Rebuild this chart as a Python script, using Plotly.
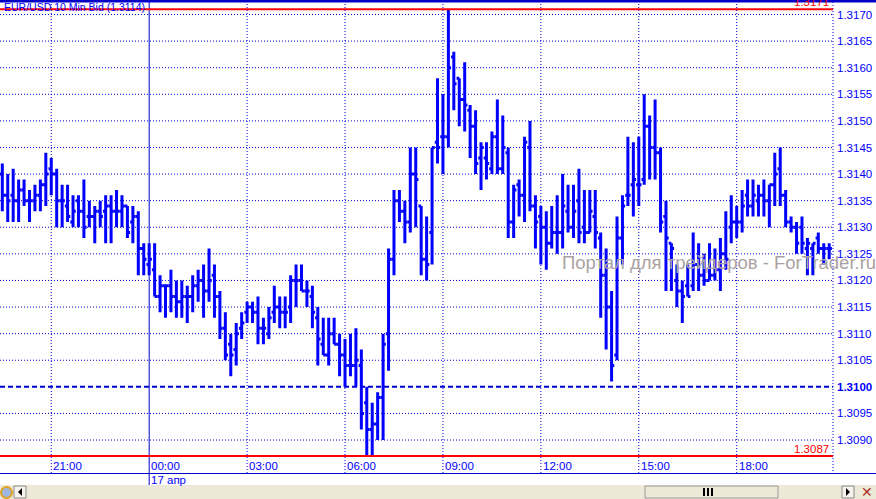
import pandas as pd
import plotly.graph_objects as go

# ---------------- data (EUR/USD, 10-minute bars, bid) ----------------
start_time = "2012-04-16 19:30"
n_bars = 153
times = pd.date_range(start_time, periods=n_bars, freq="10min")

high = [1.3142,1.3140,1.3141,1.3139,1.3139,1.3137,1.3138,1.3139,1.3144,1.3143,
        1.3141,1.3138,1.3138,1.3136,1.3136,1.3139,1.3135,1.3134,1.3135,1.3136,
        1.3136,1.3137,1.3136,1.3134,1.3134,1.3133,1.3127,1.3127,1.3127,1.3121,
        1.3119,1.3122,1.3120,1.3120,1.3119,1.3121,1.3122,1.3123,1.3126,1.3123,
        1.3118,1.3114,1.3110,1.3112,1.3114,1.3116,1.3116,1.3117,1.3113,1.3115,
        1.3119,1.3117,1.3117,1.3121,1.3123,1.3123,1.3120,1.3119,1.3115,1.3113,
        1.3113,1.3113,1.3110,1.3109,1.3110,1.3111,1.3107,1.3100,1.3097,1.3099,
        1.3110,1.3126,1.3137,1.3137,1.3135,1.3145,1.3145,1.3134,1.3132,1.3145,
        1.3158,1.3155,1.3171,1.3163,1.3158,1.3161,1.3153,1.3152,1.3146,1.3146,
        1.3148,1.3154,1.3151,1.3145,1.3138,1.3139,1.3147,1.3150,1.3136,1.3134,
        1.3133,1.3134,1.3136,1.3140,1.3138,1.3138,1.3141,1.3137,1.3137,1.3137,
        1.3129,1.3126,1.3118,1.3132,1.3136,1.3147,1.3146,1.3147,1.3155,1.3151,
        1.3154,1.3145,1.3135,1.3127,1.3123,1.3120,1.3123,1.3129,1.3127,1.3125,
        1.3127,1.3126,1.3128,1.3133,1.3136,1.3134,1.3137,1.3139,1.3139,1.3138,
        1.3139,1.3138,1.3144,1.3145,1.3137,1.3132,1.3131,1.3132,1.3128,1.3127,
        1.3129,1.3127,1.3127]

low = [1.3133,1.3131,1.3131,1.3131,1.3134,1.3131,1.3133,1.3133,1.3134,1.3136,
       1.3130,1.3130,1.3131,1.3130,1.3130,1.3128,1.3130,1.3127,1.3130,1.3127,
       1.3127,1.3130,1.3130,1.3128,1.3127,1.3121,1.3121,1.3121,1.3117,1.3114,
       1.3113,1.3114,1.3113,1.3113,1.3112,1.3114,1.3116,1.3113,1.3116,1.3113,
       1.3109,1.3105,1.3102,1.3104,1.3109,1.3112,1.3112,1.3108,1.3108,1.3109,
       1.3112,1.3111,1.3111,1.3112,1.3115,1.3118,1.3115,1.3111,1.3104,1.3106,
       1.3104,1.3108,1.3102,1.3100,1.3102,1.3100,1.3092,1.3087,1.3087,1.3090,
       1.3090,1.3103,1.3121,1.3131,1.3127,1.3129,1.3130,1.3121,1.3120,1.3123,
       1.3142,1.3140,1.3145,1.3152,1.3149,1.3148,1.3143,1.3140,1.3137,1.3139,
       1.3140,1.3140,1.3140,1.3128,1.3128,1.3132,1.3131,1.3133,1.3126,1.3123,
       1.3122,1.3126,1.3125,1.3126,1.3129,1.3128,1.3127,1.3127,1.3129,1.3126,
       1.3113,1.3107,1.3101,1.3105,1.3123,1.3134,1.3132,1.3134,1.3138,1.3139,
       1.3139,1.3129,1.3118,1.3118,1.3115,1.3112,1.3117,1.3118,1.3118,1.3119,
       1.3120,1.3120,1.3118,1.3122,1.3127,1.3128,1.3129,1.3132,1.3132,1.3132,
       1.3132,1.3130,1.3134,1.3134,1.3130,1.3129,1.3125,1.3125,1.3121,1.3121,
       1.3125,1.3123,1.3124]

open_ = [1.3140,1.3136,1.3136,1.3135,1.3137,1.3135,1.3135,1.3136,1.3138,1.3141,
         1.3140,1.3135,1.3134,1.3131,1.3135,1.3133,1.3132,1.3132,1.3133,1.3133,
         1.3134,1.3133,1.3133,1.3134,1.3131,1.3132,1.3126,1.3123,1.3122,1.3117,
         1.3119,1.3119,1.3117,1.3116,1.3117,1.3117,1.3119,1.3120,1.3118,1.3121,
         1.3117,1.3111,1.3108,1.3107,1.3111,1.3114,1.3115,1.3114,1.3111,1.3110,
         1.3114,1.3115,1.3114,1.3115,1.3120,1.3120,1.3118,1.3117,1.3113,1.3108,
         1.3106,1.3110,1.3108,1.3106,1.3104,1.3104,1.3104,1.3097,1.3092,1.3093,
         1.3098,1.3110,1.3124,1.3135,1.3133,1.3131,1.3140,1.3134,1.3124,1.3129,
         1.3146,1.3147,1.3147,1.3162,1.3158,1.3154,1.3152,1.3149,1.3143,1.3143,
         1.3141,1.3147,1.3141,1.3144,1.3131,1.3138,1.3136,1.3145,1.3134,1.3132,
         1.3130,1.3127,1.3129,1.3129,1.3133,1.3130,1.3135,1.3130,1.3129,1.3132,
         1.3128,1.3121,1.3115,1.3106,1.3128,1.3136,1.3138,1.3138,1.3139,1.3149,
         1.3145,1.3144,1.3132,1.3127,1.3120,1.3118,1.3119,1.3119,1.3123,1.3121,
         1.3120,1.3121,1.3122,1.3125,1.3130,1.3131,1.3131,1.3136,1.3134,1.3135,
         1.3136,1.3135,1.3138,1.3141,1.3136,1.3131,1.3130,1.3130,1.3126,1.3126,
         1.3128,1.3126,1.3126]

close = [1.3136,1.3135,1.3135,1.3137,1.3135,1.3135,1.3136,1.3138,1.3140,1.3140,
         1.3135,1.3135,1.3132,1.3133,1.3133,1.3130,1.3132,1.3133,1.3132,1.3134,
         1.3133,1.3133,1.3134,1.3129,1.3132,1.3126,1.3124,1.3124,1.3117,1.3119,
         1.3119,1.3117,1.3116,1.3117,1.3117,1.3119,1.3120,1.3118,1.3120,1.3117,
         1.3111,1.3106,1.3106,1.3110,1.3112,1.3115,1.3114,1.3111,1.3111,1.3113,
         1.3115,1.3114,1.3114,1.3120,1.3120,1.3118,1.3118,1.3114,1.3109,1.3106,
         1.3110,1.3108,1.3106,1.3104,1.3104,1.3105,1.3095,1.3092,1.3093,1.3098,
         1.3108,1.3124,1.3135,1.3133,1.3131,1.3140,1.3139,1.3124,1.3123,1.3145,
         1.3145,1.3147,1.3160,1.3157,1.3154,1.3153,1.3149,1.3142,1.3145,1.3142,
         1.3147,1.3141,1.3145,1.3131,1.3137,1.3136,1.3146,1.3134,1.3131,1.3130,
         1.3127,1.3129,1.3129,1.3134,1.3130,1.3133,1.3129,1.3129,1.3133,1.3129,
         1.3121,1.3115,1.3104,1.3128,1.3134,1.3136,1.3139,1.3138,1.3149,1.3145,
         1.3144,1.3131,1.3128,1.3126,1.3118,1.3117,1.3117,1.3123,1.3121,1.3120,
         1.3121,1.3122,1.3125,1.3124,1.3131,1.3131,1.3134,1.3134,1.3136,1.3136,
         1.3135,1.3138,1.3140,1.3136,1.3131,1.3130,1.3127,1.3127,1.3127,1.3127,
         1.3126,1.3126,1.3126]

price_ticks = [1.3090, 1.3095, 1.3100, 1.3105, 1.3110, 1.3115, 1.3120, 1.3125,
               1.3130, 1.3135, 1.3140, 1.3145, 1.3150, 1.3155, 1.3160, 1.3165, 1.3170]
round_level = 1.3100
time_ticks = ["2012-04-16 21:00", "2012-04-17 00:00", "2012-04-17 03:00",
              "2012-04-17 06:00", "2012-04-17 09:00", "2012-04-17 12:00",
              "2012-04-17 15:00", "2012-04-17 18:00"]
time_labels = ["21:00", "00:00", "03:00", "06:00", "09:00", "12:00", "15:00", "18:00"]
day_break = "2012-04-17 00:00"
day_label = "17 апр"
title_text = "EUR/USD 10 Min Bid (1.3114)"
watermark = "Портал для трейдеров - ForTrader.ru"

# ---------------- layout geometry ----------------
W, H = 876, 499
PL, PR, PT, PB = 0, 833, 2, 473  # plot area in pixels
x_range = ["2012-04-16 19:25:46", "2012-04-17 20:57:01"]
y_range = [1.30838, 1.317235]

def px(xp):
    return (xp - PL) / (PR - PL)

def py(yp):
    return (PB - yp) / (PB - PT)

BLUE = "#0000ff"
GRID = "#0000dd"
FONT = "Liberation Sans, Arial, sans-serif"

fig = go.Figure()
fig.add_trace(go.Ohlc(
    x=times, open=open_, high=high, low=low, close=close,
    increasing=dict(line=dict(color=BLUE, width=3)),
    decreasing=dict(line=dict(color=BLUE, width=3)),
    tickwidth=0.5, hoverinfo="skip", showlegend=False,
))

shapes = []
for p in price_ticks:
    if p == round_level:
        shapes.append(dict(type="line", xref="paper", yref="y", x0=0, x1=1, y0=p, y1=p,
                           line=dict(color="#0000cc", width=2, dash="5px,3px"), layer="below"))
    else:
        shapes.append(dict(type="line", xref="paper", yref="y", x0=0, x1=1, y0=p, y1=p,
                           line=dict(color=GRID, width=1, dash="1px,2px"), layer="below"))
for t in time_ticks:
    if t == day_break:
        shapes.append(dict(type="line", xref="x", yref="paper", x0=t, x1=t, y0=py(485), y1=1,
                           line=dict(color="#0000cc", width=1), layer="below"))
    else:
        shapes.append(dict(type="line", xref="x", yref="paper", x0=t, x1=t, y0=0, y1=1,
                           line=dict(color=GRID, width=1, dash="1px,2px"), layer="below"))
shapes.append(dict(type="line", xref="paper", yref="paper", x0=1, x1=1, y0=py(471), y1=1,
                   line=dict(color=GRID, width=1, dash="1px,2px")))
hi_v, lo_v = max(high), min(low)
for v in (hi_v, lo_v):
    shapes.append(dict(type="line", xref="paper", yref="y", x0=0, x1=1, y0=v, y1=v,
                       line=dict(color="#ff0000", width=2)))
shapes.append(dict(type="rect", xref="paper", yref="paper", x0=0, x1=px(W), y0=py(2.5), y1=py(0),
                   fillcolor="#0000c8", line=dict(width=0)))
shapes.append(dict(type="line", xref="paper", yref="paper", x0=0, x1=px(W), y0=py(473.5), y1=py(473.5),
                   line=dict(color="#0000cc", width=1)))
# scrollbar
shapes.append(dict(type="rect", xref="paper", yref="paper", x0=0, x1=px(W), y0=py(499), y1=py(485),
                   fillcolor="#ece9d8", line=dict(width=0)))
shapes.append(dict(type="rect", xref="paper", yref="paper", x0=px(645), x1=px(778), y0=py(498), y1=py(486),
                   fillcolor="#ece9d8", line=dict(color="#9a9a9a", width=1)))
for bx in (px(14), px(842)):
    shapes.append(dict(type="rect", xref="paper", yref="paper", x0=bx, x1=bx + px(12) - px(0),
                       y0=py(498), y1=py(486), fillcolor="#f4f3ee", line=dict(color="#8a8a8a", width=1)))
shapes.append(dict(type="path", xref="paper", yref="paper",
                   path=f"M {px(22)} {py(488)} L {px(22)} {py(496)} L {px(18)} {py(492)} Z",
                   fillcolor="#000000", line=dict(width=0)))
shapes.append(dict(type="path", xref="paper", yref="paper",
                   path=f"M {px(846)} {py(488)} L {px(846)} {py(496)} L {px(850)} {py(492)} Z",
                   fillcolor="#000000", line=dict(width=0)))
shapes.append(dict(type="circle", xref="paper", yref="paper", x0=px(1), x1=px(12), y0=py(498), y1=py(487),
                   fillcolor="#9fb7e0", line=dict(color="#e0a020", width=2)))
for gx in (704, 708, 712):
    shapes.append(dict(type="line", xref="paper", yref="paper", x0=px(gx), x1=px(gx), y0=py(496), y1=py(488),
                       line=dict(color="#000000", width=2)))

annotations = []
for t, lab in zip(time_ticks, time_labels):
    annotations.append(dict(x=t, xref="x", y=py(466), yref="paper", text=lab, showarrow=False,
                            xanchor="left", yanchor="middle", xshift=0,
                            font=dict(family=FONT, size=11.5, color=BLUE)))
annotations.append(dict(x=day_break, xref="x", y=py(480), yref="paper", text=day_label, showarrow=False,
                        xanchor="left", yanchor="middle", xshift=0,
                        font=dict(family=FONT, size=11.5, color=BLUE)))
annotations.append(dict(x=1, xref="paper", y=hi_v, yref="y", text=f"{hi_v:.4f}", showarrow=False,
                        xanchor="right", yanchor="bottom", xshift=-2, yshift=-1,
                        font=dict(family=FONT, size=11.5, color="#ff0000")))
annotations.append(dict(x=1, xref="paper", y=lo_v, yref="y", text=f"{lo_v:.4f}", showarrow=False,
                        xanchor="right", yanchor="bottom", xshift=-2, yshift=-1,
                        font=dict(family=FONT, size=11.5, color="#ff0000")))
annotations.append(dict(x=0, xref="paper", y=py(7), yref="paper", text=title_text, showarrow=False,
                        xanchor="left", yanchor="middle", xshift=2,
                        font=dict(family=FONT, size=10.5, color=BLUE)))
annotations.append(dict(x=px(560), xref="paper", y=py(262), yref="paper", text=watermark, showarrow=False,
                        xanchor="left", yanchor="middle",
                        font=dict(family=FONT, size=18.5, color="#aaa2a2")))
annotations.append(dict(x=px(867), xref="paper", y=py(492), yref="paper", text="✕", showarrow=False,
                        xanchor="center", yanchor="middle",
                        font=dict(family="DejaVu Sans", size=14, color="#b03020")))

tick_text = [f"<b>{p:.4f}</b>" if p == round_level else f"{p:.4f}" for p in price_ticks]

fig.update_layout(
    width=W, height=H, autosize=False,
    margin=dict(l=PL, r=W - PR, t=PT, b=H - PB, pad=0),
    paper_bgcolor="white", plot_bgcolor="white",
    showlegend=False,
    shapes=shapes, annotations=annotations,
    xaxis=dict(type="date", range=x_range, showgrid=False, zeroline=False, showticklabels=False,
               showline=False, ticks="", rangeslider=dict(visible=False), fixedrange=True),
    yaxis=dict(range=y_range, side="right", tickvals=price_ticks, ticktext=tick_text,
               showgrid=False, zeroline=False, showline=False, ticks="",
               ticklabelstandoff=3,
               tickfont=dict(family=FONT, size=11.5, color=BLUE), fixedrange=True),
)

fig.write_html("out.html", config={"displayModeBar": False},
               post_script="document.body.style.margin='0px';document.body.style.overflow='hidden';")
